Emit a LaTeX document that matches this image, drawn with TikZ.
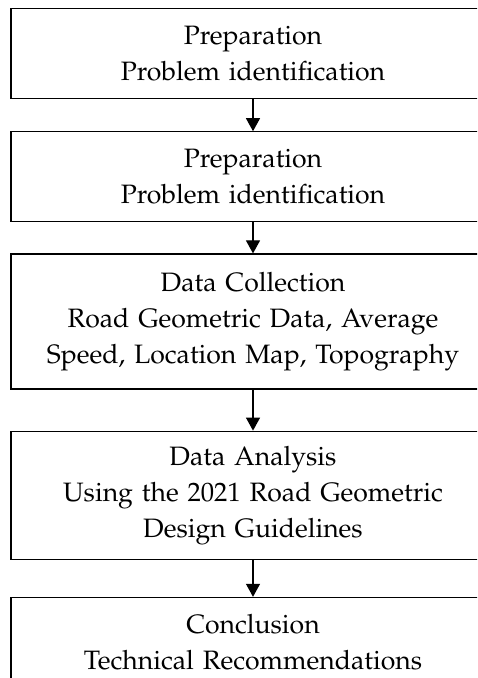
\documentclass[tikz,border=0pt]{standalone}
\usepackage[T1]{fontenc}
\usepackage{mathpazo}
\usetikzlibrary{positioning,arrows.meta}
\def\boxWidth{242pt}
\def\lineHeight{45pt}
\tikzset{
  stageBox/.style={
    draw,
    line width=0.6pt,
    minimum width=\boxWidth,
    minimum height=\lineHeight,
    text width=230pt,
    align=center,
    inner sep=0pt,
    font=\fontsize{13.3}{18}\selectfont
  },
  flowArrow/.style={
    draw,
    line width=0.6pt,
    -{Triangle[width=7pt,length=6.5pt]}
  }
}

\begin{document}
\begin{tikzpicture}
    \useasboundingbox (0,0) rectangle (238.5pt,-339pt);
    \clip (0,0) rectangle (238.5pt,-339pt);

    \node[stageBox,anchor=north] (prepA) at (126.5pt,-4pt)
      {Preparation\\Problem identification};
    \node[stageBox,below=16pt of prepA] (prepB)
      {Preparation\\Problem identification};
    \node[stageBox,minimum height=67.5pt,below=15.5pt of prepB] (collection)
      {Data Collection\\Road Geometric Data, Average\\Speed, Location Map, Topography};
    \node[stageBox,minimum height=64pt,below=20.5pt of collection] (analysis)
      {Data Analysis\\Using the 2021 Road Geometric\\Design Guidelines};
    \node[stageBox,below=18.5pt of analysis] (conclusion)
      {Conclusion\\Technical Recommendations};

    \path[flowArrow] (prepA) -- (prepB);
    \path[flowArrow] (prepB) -- (collection);
    \path[flowArrow] (collection) -- (analysis);
    \path[flowArrow] (analysis) -- (conclusion);
  \end{tikzpicture}
\end{document}
